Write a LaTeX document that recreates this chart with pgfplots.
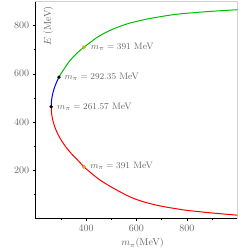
\documentclass[border=0pt]{standalone}
\usepackage{pgfplots}
\pgfplotsset{compat=1.18}
\definecolor{cgreen}{RGB}{0,190,0}
\definecolor{corange}{RGB}{222,162,40}
\definecolor{ctext}{gray}{0.4}
\begin{document}
\begin{tikzpicture}
\useasboundingbox (-35.7pt,-31.7pt) rectangle (212.3pt,218.3pt);
\begin{axis}[
  at={(0,0)}, anchor=south west,
  scale only axis, width=201.6pt, height=216.8pt,
  xmin=200, xmax=1000, ymin=0, ymax=900,
  clip=false,
  xtick={400,600,800}, minor xtick={300,500,700,900},
  ytick={200,400,600,800}, minor ytick={100,300,500,700},
  tick pos=left, tick align=outside,
  major tick length=3pt, minor tick length=2pt,
  every tick/.style={black, line width=0.5pt},
  axis line style={draw=gray!35, line width=0.5pt},
  ticklabel style={text=ctext},
  xlabel={$m_\pi$(MeV)}, ylabel={$E$ (MeV)},
  label style={text=ctext},
  xlabel style={xshift=6pt},
  ylabel style={at={(rel axis cs:0.021,0.993)}, anchor=north east},
]
% lower branch
\addplot[red, line width=1pt, smooth] coordinates {
 (261.57,463) (262.65,440) (265.3,420) (269.65,400) (275.6,380) (283.2,360)
 (292.6,340) (304,320) (317,300) (332,280) (349,260) (368,240) (391,214)
 (420,188) (455,159) (500,130) (560,96) (600,78) (650,62) (700,50)
 (750,41) (800,33) (900,22) (1000,13)
};
% middle branch
\addplot[blue, line width=1pt, smooth] coordinates {
 (261.57,463) (261.86,475) (263.05,490) (265.2,505) (268.2,520) (272.1,535)
 (277,550) (284,568) (292.35,586)
};
% upper branch
\addplot[cgreen, line width=1pt, smooth] coordinates {
 (292.35,586) (300,600) (309,614) (322,635) (336,655) (360,682) (391,710)
 (420,733) (442,750) (475,770) (508,786) (540,799) (575,811) (641,827)
 (700,838) (767,848) (880,858) (1000,866)
};
\addplot[only marks, mark=*, mark size=1.5pt, black] coordinates {
 (261.57,463) (292.35,586)
};
\addplot[only marks, mark=*, mark size=1.8pt, color=corange, mark options={draw=corange, fill=corange}] coordinates {
 (391,710) (391,214)
};
\tikzset{ann/.style={anchor=west, inner sep=0pt, text=ctext, font=\fontsize{9.4pt}{11pt}\selectfont}}
\node[ann] at (axis cs:284.7,463) {$m_\pi = 261.57$ MeV};
\node[ann] at (axis cs:313.7,586) {$m_\pi = 292.35$ MeV};
\node[ann] at (axis cs:418.6,710) {$m_\pi = 391$ MeV};
\node[ann] at (axis cs:415.8,216) {$m_\pi = 391$ MeV};
\draw[black, line width=1.2pt] (rel axis cs:0,1) -- (rel axis cs:0,0) -- (rel axis cs:1,0);
\end{axis}
\end{tikzpicture}
\end{document}
